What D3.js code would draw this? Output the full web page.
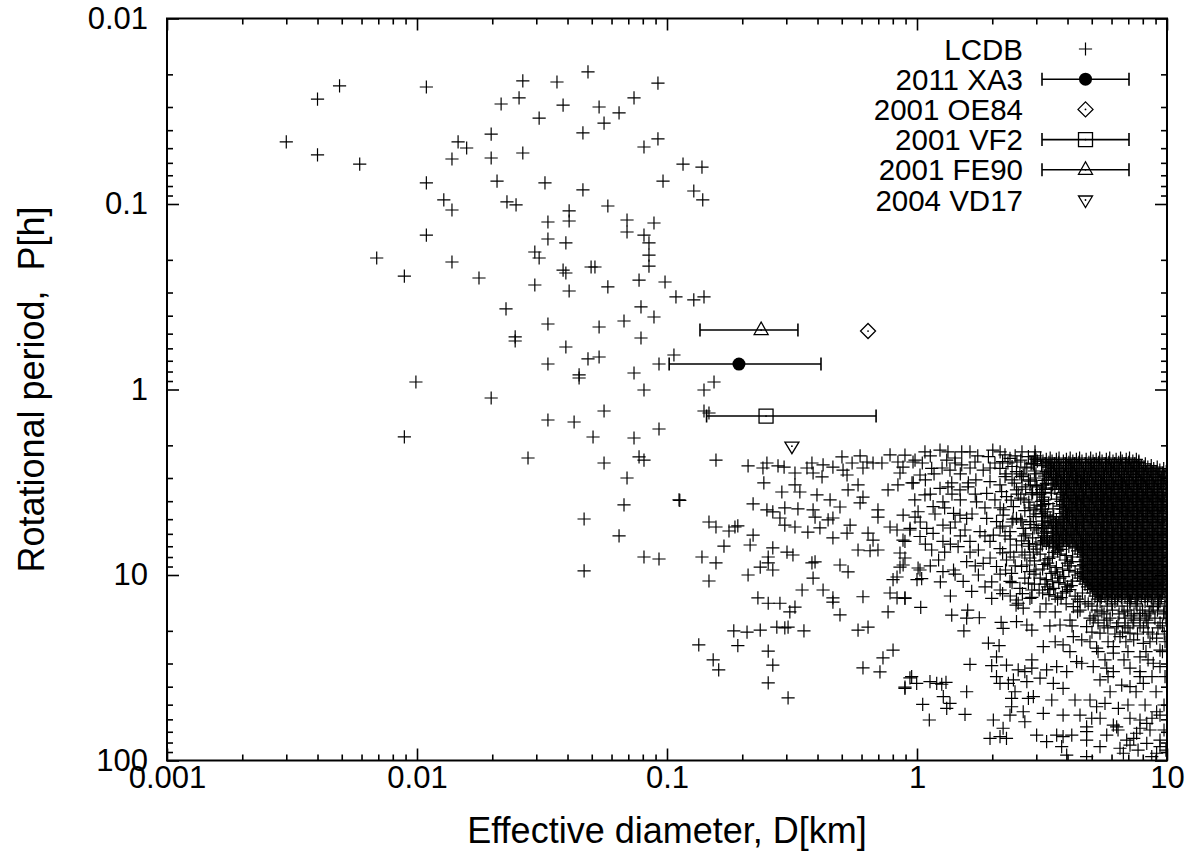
<!DOCTYPE html>
<html>
<head>
<meta charset="utf-8">
<script src="https://cdn.jsdelivr.net/npm/d3@7"></script>
<style>
  body { margin: 0; background: #fff; }
  svg { display: block; font-family: "Liberation Sans", Arial, sans-serif; }
</style>
</head>
<body>
<div id="chart"></div>
<script>
// LCDB asteroids, [D km, P h] (sparse part, D < 1 km)
const lcdbSparse = [
  [0.0049,0.0231],[0.004,0.0272],[0.0109,0.0234],[0.003,0.0463],[0.004,0.0544],[0.0059,0.0609],
  [0.0109,0.077],[0.0128,0.0951],[0.0138,0.1077],[0.0138,0.0572],[0.0146,0.0463],[0.0158,0.0499],
  [0.0483,0.0194],[0.0265,0.0217],[0.0363,0.022],[0.092,0.0223],[0.0256,0.0268],[0.0217,0.0289],
  [0.0384,0.0293],[0.0738,0.0268],[0.0535,0.030],[0.0643,0.0323],[0.056,0.0366],[0.0308,0.0344],
  [0.0198,0.042],[0.0461,0.0414],[0.0198,0.0565],[0.0265,0.0531],[0.0809,0.0493],[0.092,0.0446],
  [0.1159,0.0609],[0.138,0.0632],[0.0209,0.0752],[0.0325,0.077],[0.0461,0.084],[0.0964,0.0752],
  [0.128,0.0851],[0.139,0.0951],[0.0229,0.0975],[0.0249,0.1012],[0.0406,0.109],[0.058,0.1025],
  [0.0334,0.125],[0.0406,0.1235],[0.0692,0.122],[0.0887,0.1266],[0.0109,0.147],[0.0069,0.1955],
  [0.0089,0.2446],[0.0099,0.911],[0.0089,1.80],[0.0138,0.2054],[0.0692,0.1416],[0.0809,0.147],
  [0.0334,0.1544],[0.0394,0.1622],[0.0847,0.1622],[0.0296,0.1814],[0.0308,0.1955],[0.0847,0.1884],
  [0.0847,0.216],[0.0177,0.2506],[0.0384,0.227],[0.0394,0.2355],[0.0497,0.2186],[0.0515,0.2186],
  [0.0296,0.2733],[0.0406,0.2945],[0.058,0.280],[0.0773,0.257],[0.0982,0.2634],[0.1086,0.317],
  [0.128,0.329],[0.1406,0.317],[0.0227,0.368],[0.0334,0.4436],[0.0535,0.4603],[0.0673,0.4274],
  [0.0787,0.359],[0.0887,0.4066],[0.0247,0.521],[0.0247,0.5477],[0.0394,0.590],[0.0787,0.5277],
  [0.0334,0.7288],[0.0483,0.6846],[0.0535,0.668],[0.0445,0.835],[0.0445,0.867],[0.0738,0.815],
  [0.0929,0.7288],[0.1066,0.6518],[0.0198,1.111],[0.0809,1.006],[0.1406,1.006],[0.1542,0.911],
  [0.056,1.306],[0.0334,1.46],[0.0425,1.497],[0.1406,1.306],[0.1472,1.339],[0.0929,1.633],
  [0.0506,1.803],[0.0738,1.826],[0.0278,2.34],[0.056,2.49],[0.0773,2.31],[0.0809,2.40],
  [0.157,2.40],[0.0692,3.0],[0.1117,3.94],[0.1125,3.96],[0.0673,4.19],[0.0466,4.99],
  [0.0643,6.16],[0.0809,8.0],[0.0929,8.2],[0.0466,9.5],[0.1472,5.18],[0.157,5.51],
  [0.177,5.79],[0.187,5.51],[0.192,5.44],[0.169,6.98],[0.138,8.0],[0.157,8.61],
  [0.1472,10.77],[0.185,20.0],[0.211,2.58],[0.251,2.49],[0.242,2.65],[0.278,2.58],
  [0.294,2.62],[0.325,2.82],[0.380,2.49],[0.363,2.65],[0.384,2.82],[0.421,2.55],
  [0.417,2.96],[0.461,2.62],[0.501,2.31],[0.506,2.72],[0.525,2.89],[0.55,2.49],
  [0.592,2.28],[0.631,2.46],[0.608,2.65],[0.667,2.49],[0.724,2.49],[0.78,2.25],
  [0.839,2.46],[0.879,2.62],[0.964,2.46],[0.855,2.82],[0.244,3.19],[0.288,3.57],
  [0.325,3.27],[0.340,3.57],[0.398,3.70],[0.449,3.94],[0.53,3.48],[0.581,3.27],
  [0.608,3.80],[0.592,4.09],[0.766,3.48],[0.839,3.27],[0.955,3.19],[0.221,4.14],
  [0.251,4.46],[0.265,4.57],[0.296,4.35],[0.334,4.40],[0.384,4.46],[0.492,4.30],
  [0.698,4.46],[0.283,4.93],[0.391,4.87],[0.441,5.05],[0.461,4.93],[0.221,6.09],
  [0.296,5.38],[0.325,5.51],[0.366,5.87],[0.409,5.57],[0.461,6.31],[0.54,5.38],
  [0.525,5.94],[0.637,5.94],[0.667,6.48],[0.698,4.87],[0.78,5.51],[0.832,5.72],
  [0.879,6.48],[0.937,5.72],[0.982,4.87],[0.215,6.89],[0.265,7.15],[0.254,8.0],
  [0.302,7.52],[0.319,7.80],[0.236,9.06],[0.254,8.61],[0.265,9.40],[0.211,10.0],
  [0.380,8.61],[0.391,8.5],[0.384,10.4],[0.492,8.83],[0.53,9.63],[0.581,7.33],
  [0.649,7.4],[0.698,7.33],[0.855,7.61],[0.895,8.1],[0.855,9.06],[0.832,10.25],
  [0.802,10.6],[1.01,9.17],[1.0,10.6],[0.347,12.05],[0.421,12.05],[0.461,13.3],
  [0.461,14.0],[0.231,13.3],[0.254,14.2],[0.283,14.2],[0.325,14.9],[0.31,15.8],
  [0.608,13.1],[0.78,12.5],[0.832,13.3],[0.895,13.3],[0.766,15.8],[0.492,16.4],
  [0.209,20.3],[0.236,19.8],[0.275,19.1],[0.296,19.3],[0.305,19.1],[0.353,20.0],
  [0.581,19.8],[0.637,19.1],[0.134,23.8],[0.192,24.0],[0.254,25.7],[0.153,28.7],
  [0.161,32.5],[0.265,30.6],[0.731,28.0],[0.802,25.4],[0.608,31.7],[0.711,33.3],
  [0.254,38.2],[0.305,46.0],[0.937,35.9],[0.895,40.2]
];

// LCDB, D from about 1 to 3 km and the lower tail
const lcdbMid = [
  [1.236,2.12],[0.982,2.40],[1.145,2.66],[1.315,2.40],[1.51,2.55],[1.605,3.19],[0.966,3.19],
  [1.236,3.41],[1.377,3.19],[1.93,2.30],[1.84,2.72],[2.355,2.35],[2.79,2.30],[2.148,2.66],
  [2.50,2.77],[2.66,2.89],[1.959,3.14],[2.148,3.27],[1.90,3.63],[2.28,3.78],[2.50,3.48],
  [2.831,3.27],[1.73,4.03],[2.43,4.28],[1.01,4.56],[0.88,4.75],[1.16,4.28],[1.27,4.03],
  [1.486,4.75],[1.58,4.95],[1.40,4.65],[1.90,4.95],[2.08,5.16],[2.21,4.75],[2.50,4.95],
  [2.83,5.16],[2.66,5.60],[2.355,5.84],[2.02,6.09],[1.786,5.84],[1.556,5.72],[1.27,5.38],
  [1.094,5.60],[0.938,5.60],[0.895,6.59],[1.028,6.2],[1.16,5.96],[1.27,6.59],[1.46,7.04],
  [1.629,6.59],[1.76,7.33],[1.959,6.59],[2.148,7.2],[2.50,6.89],[2.79,6.77],[1.145,7.33],
  [1.22,8.30],[0.88,8.83],[1.028,9.40],[1.044,10.46],[1.27,9.6],[1.40,9.40],[1.58,8.48],
  [1.84,8.65],[2.08,9.0],[2.28,8.30],[2.39,9.8],[2.75,8.83],[1.53,10.83],[1.655,12.25],
  [1.871,11.6],[1.76,10.0],[2.355,10.83],[2.58,11.8],[2.79,11.05],[1.99,13.37],[2.50,13.64],
  [0.895,13.37],[0.895,2.26],[1.076,2.17],[1.419,2.34],[1.629,2.17],[1.355,2.72],[1.028,2.89],
  [1.706,2.46],[2.01,2.12],[2.249,2.25],[2.51,2.46],[2.965,2.17],[2.965,3.0],[3.02,3.70],
  [2.94,4.46],[3.05,5.72],[2.92,7.52],[2.99,9.4],[3.08,12.05],[1.486,3.48],[1.076,3.70],
  [1.33,2.17],[1.51,2.17],[2.15,2.17],[2.63,2.17],[1.13,2.28],[1.75,2.28],[2.47,2.28],[2.97,2.28],
  [1.05,2.49],[1.42,2.49],[2.05,2.49],[2.31,2.49],[2.88,2.49],[1.26,2.65],[1.63,2.65],[1.96,2.65],
  [2.75,2.65],[1.17,2.85],[1.49,2.85],[2.27,2.85],[2.58,2.85],[2.99,2.85],[1.08,3.07],[1.72,3.07],
  [2.40,3.07],[2.79,3.07],[1.33,3.35],[1.60,3.35],[2.63,3.35],[3.02,3.35],[1.13,3.66],[1.38,3.66],
  [1.71,3.66],[2.54,3.66],[2.88,3.66],[0.98,3.94],[1.49,3.94],[2.05,3.94],[2.68,3.94],[1.29,4.35],
  [1.87,4.35],[2.15,4.35],[2.83,4.35],[1.18,4.69],[1.66,4.69],[2.99,4.69],[1.03,5.18],[1.42,5.18],
  [2.40,5.18],[2.63,5.18],[1.36,5.58],[2.15,5.58],[2.94,5.58],[1.49,6.16],[1.87,6.16],[2.25,6.16],
  [2.68,6.16],[1.08,6.81],[1.36,6.81],[2.99,6.81],[1.29,7.52],[1.63,7.52],[2.36,7.52],[2.63,7.52],
  [1.96,8.10],[2.83,8.10],[1.13,8.94],[1.71,8.94],[2.47,8.94],[1.42,9.88],[2.15,9.88],[2.94,9.88],
  [1.24,10.9],[1.99,10.9],[2.15,12.05],[2.88,12.05],[1.36,12.98],[2.36,12.98],
  [2.60,2.40],[2.86,2.52],[2.70,2.62],[2.95,2.75],[2.62,2.95],[2.84,3.12],[3.00,3.30],[2.72,3.45],
  [2.90,3.60],[2.60,3.85],[2.80,4.05],[3.02,4.20],[2.70,4.50],[2.92,4.85],[2.60,5.05],[2.85,5.35],
  [3.00,5.55],[2.72,6.00],[2.90,6.30],[2.62,6.55],[2.82,7.00],[3.02,7.25],[2.70,7.80],[2.95,8.40],
  [2.62,9.00],[2.82,9.60],[2.70,10.4],[2.95,11.2],[2.64,12.6],[2.88,13.2],
  [2.20,2.45],[2.40,2.60],[2.25,2.95],[2.45,3.20],[2.18,3.55],[2.38,3.95],[2.22,4.45],[2.42,5.0],
  [2.20,5.45],[2.36,6.4],[2.20,7.6],[2.44,8.0],[2.26,9.4],[2.40,11.0],[2.20,12.6],
  [3.45,3.62],[3.62,3.90],[3.36,4.12],[3.50,4.40],
  [1.035,14.93],[1.377,16.44],[1.595,15.45],[1.58,17.1],[1.775,17.0],[1.54,20.0],[2.17,18.0],
  [2.21,19.4],[1.93,23.3],[2.13,24.05],[2.49,14.52],[2.66,15.1],[2.50,17.85],[2.75,18.6],
  [2.88,19.8],[2.83,13.37],[1.629,30.3],[2.08,27.6],[1.99,30.8],[2.28,30.6],[2.08,35.3],
  [2.54,32.5],[2.70,33.2],[2.88,28.7],[2.88,31.8],[0.952,35.3],[0.895,40.8],[0.997,38.4],
  [1.127,37.6],[1.199,38.4],[1.256,38.8],[1.306,37.9],[1.58,42.6],[1.274,45.3],[1.355,49.2],
  [1.315,52.3],[1.054,49.8],[1.12,60.5],[1.556,56.4],[2.148,38.4],[2.32,38.4],[2.43,36.8],
  [2.466,42.6],[2.39,46.2],[2.39,51.3],[2.75,37.6],[2.79,46.2],[2.66,54.6],[2.70,61.8],
  [2.355,56.9],[2.02,60.5],[2.21,67.0],[2.148,74.4],[1.959,75.9],[2.28,75.9],
  [3.20,24.35],[3.84,23.8],[4.22,21.5],[4.56,22.4],[5.23,24.8],[6.10,24.35],[6.486,21.5],
  [7.112,20.6],[7.36,22.4],[8.04,23.35],[9.09,21.9],[9.376,25.4],[7.798,27.6],[6.10,26.4],
  [4.35,29.3],[4.56,29.9],[3.62,31.2],[3.30,32.5],[3.97,33.2],[5.07,31.2],[5.74,31.8],
  [6.10,33.2],[7.112,31.8],[7.798,33.2],[8.81,29.9],[9.376,31.2],[3.105,36.0],[3.51,38.4],
  [3.84,40.8],[5.395,36.8],[6.59,39.2],[7.112,40.0],[8.04,38.4],[7.798,35.3],[2.92,45.3],
  [3.46,47.2],[4.285,47.2],[4.92,47.2],[5.23,51.3],[5.649,49.2],[6.39,52.3],[3.20,55.7],
  [3.84,56.9],[4.487,56.9],[5.0,59.2],[4.77,65.8],[4.77,69.9],[6.10,64.4],[6.29,65.8],
  [7.798,60.5],[8.30,63.0],[9.09,54.6],[9.376,56.9],[3.01,72.9],[3.30,79.2],[3.62,72.9],
  [3.84,74.4],[4.16,72.9],[4.77,77.6],[5.395,84.2],[5.74,72.9],[6.90,77.6],[7.112,82.6],
  [7.36,75.9],[7.56,71.3],[7.798,67.0],[8.30,80.8],[9.376,77.6],[9.376,84.2],[3.97,93.5],
  [4.77,95.4],[6.486,85.9],[6.69,91.4],[8.69,95.4],[9.09,91.4],[3.79,84.2],
  [2.54,14.2],[3.105,15.8],[3.733,18.6],[4.093,17.5],[4.77,19.0],[4.22,14.8],[4.487,13.93],
  [5.74,17.5],[6.29,19.0],[7.112,14.2],[7.798,16.1],[8.30,17.5],[8.81,14.8],[7.36,17.5],
  [5.395,20.6],[5.07,17.5],
  [3.28,14.3],[3.95,14.3],[4.84,14.3],[6.02,14.3],[7.52,14.3],[9.25,14.3],
  [3.57,15.8],[4.39,15.8],[5.49,15.8],[6.73,15.8],[8.55,15.8],[9.73,15.8],
  [5.15,16.6],[7.19,16.6],[8.17,16.6],
  [3.40,18.8],[4.17,18.8],[5.60,18.8],[6.79,18.8],[7.80,18.8],[9.59,18.8],
  [5.01,20.3],[6.64,20.3],[8.40,20.3],
  [3.57,22.9],[4.92,22.9],[5.81,22.9],[6.85,22.9],[8.55,22.9],[9.82,22.9],
  [4.09,25.9],[5.30,25.9],[6.98,25.9],[8.24,25.9],[9.59,25.9],
  [5.65,28.7],[6.73,28.7],[8.40,28.7],[5.81,35.3],[8.71,35.3],[9.82,35.3],
  [5.92,42.6],[7.52,42.6],[9.04,42.6],[6.98,50.2],[8.17,50.2],[9.73,50.2],
  [5.40,59.2],[7.11,59.2],[8.71,59.2],[6.37,68.5],[8.55,68.5],[9.73,68.5],
  [7.66,87.9],[9.90,87.9]
];

// LCDB core cloud (D 3 to 10 km, P 2.3 to 21 h): one period per row, diameters read along it
const coreP = [2.34,2.43,2.52,2.62,2.72,2.82,2.93,3.04,3.15,3.27,3.40,3.53,3.66,3.80,3.94,4.09,
  4.25,4.41,4.57,4.75,4.93,5.12,5.31,5.51,5.72,5.94,6.16,6.40,6.64,6.89,7.15,7.42,7.71,8.00,
  8.30,8.62,8.94,9.28,9.63,10.0,10.4,10.8,11.2,11.6,12.0,12.5,13.0,13.5,
  13.9,14.7,15.45,16.2,17.1,18.1,19.3,20.8,
  2.38,2.47,2.57,2.67,2.77,2.87,2.98,3.09,3.21,3.33,3.46,3.59,3.73,3.87,4.01,4.17,4.33,4.49,
  4.66,4.84,5.02,5.21,5.41,5.61,5.83,6.05,6.28,6.52,6.76,7.02,7.28,7.56,7.85,8.15,8.46,8.78,
  9.11,9.45,9.81,10.2,10.6,11.0,11.4,11.8,12.25,12.75,13.25];
const coreD = [
  [2.95,3.12,3.41,3.70,4.10,4.47,4.95,5.38,5.90,6.52,7.08],
  [3.03,3.19,3.47,3.85,4.20,4.57,5.06,5.50,6.08,6.62,7.30,7.72],
  [2.92,3.26,3.55,3.93,4.27,4.72,5.13,5.67,6.17,6.82,7.43,8.19],
  [3.34,3.63,4.02,4.37,4.83,5.25,5.80,6.32,6.97,7.60,8.38,9.14],
  [3.42,3.72,4.11,4.48,4.94,5.39,5.94,6.47,7.13,7.78,8.57,9.36],
  [3.19,3.46,3.84,4.18,4.61,5.02,5.54,6.03,6.66,7.26,8.00,8.73,9.61],
  [3.24,3.58,3.89,4.31,4.68,5.17,5.63,6.21,6.77,7.47,8.15,8.97,9.80],
  [3.35,3.64,4.01,4.38,4.80,5.29,5.76,6.36,6.93,7.64,8.34,9.18],
  [3.75,4.08,4.51,4.90,5.42,5.91,6.50,7.09,7.82,8.53,9.40],
  [3.17,3.49,3.80,4.21,4.58,5.05,5.50,6.07,6.63,7.30,7.96,8.77,9.57],
  [3.26,3.56,3.92,4.28,4.72,5.14,5.66,6.18,6.81,7.44,8.19,8.93,9.83],
  [4.01,4.40,4.79,5.28,5.77,6.35,6.94,7.63,8.35,9.17],
  [3.10,3.74,4.10,4.48,4.93,5.41,5.93,6.48,7.12,7.79,8.56,9.37],
  [3.19,3.81,4.20,4.60,5.03,5.53,6.04,6.65,7.27,7.99,8.74,9.60],
  [3.24,3.90,4.30,4.69,5.16,5.64,6.20,6.78,7.46,8.16,8.96,9.81],
  [4.02,4.38,4.82,5.26,5.79,6.33,6.96,7.61,8.37,9.15],
  [3.12,3.72,4.09,4.50,4.91,5.41,5.92,6.49,7.10,7.81,8.54,9.39],
  [3.17,3.83,4.18,4.58,5.05,5.51,6.06,6.63,7.29,7.97,8.76,9.58],
  [3.26,3.92,4.29,4.71,5.14,5.66,6.18,6.80,7.44,8.18,8.94,9.82],
  [3.32,4.00,4.40,4.80,5.28,5.77,6.35,6.94,7.63,8.35,9.17],
  [3.41,3.73,4.08,4.49,4.93,5.39,5.93,6.48,7.12,7.79,8.56,9.37],
  [3.18,3.47,3.83,4.19,4.60,5.03,5.53,6.04,6.65,7.27,7.99,8.74,9.60],
  [3.25,3.58,3.90,4.30,4.69,5.16,5.64,6.20,6.78,7.46,8.16,8.96,9.81],
  [3.34,3.64,4.01,4.38,4.82,5.26,5.79,6.33,6.96,7.61,8.37,9.15],
  [3.74,4.10,4.48,4.92,5.41,5.91,6.50,7.10,7.81,8.54,9.39],
  [3.19,3.48,3.81,4.20,4.58,5.05,5.51,6.06,6.63,7.29,7.97,8.76,9.58],
  [3.24,3.57,3.92,4.28,4.71,5.14,5.66,6.18,6.80,7.44,8.18,8.94,9.82],
  [3.33,3.66,3.99,4.40,4.80,5.28,5.77,6.35,6.94,7.63,8.35,9.17],
  [3.12,3.39,3.72,4.09,4.50,4.91,5.40,5.92,6.49,7.11,7.80,8.55,9.38],
  [3.17,3.49,3.83,4.18,4.59,5.04,5.52,6.05,6.64,7.28,7.98,8.75,9.59],
  [3.57,4.29,4.70,5.15,5.65,6.19,6.79,7.45,8.17,8.95,9.82],
  [3.65,4.39,4.81,5.27,5.78,6.34,6.95,7.62,8.36,9.16],
  [3.11,3.73,4.49,4.92,5.40,5.92,6.49,7.11,7.80,8.55,9.38],
  [3.48,4.19,4.59,5.04,5.52,6.05,6.64,7.28,7.98,8.75,9.59],
  [3.25,3.91,4.70,5.15,5.65,6.19,6.79,7.45,8.17,8.95,9.82],
  [3.33,4.00,4.81,5.27,5.78,6.34,6.95,7.62,8.36,9.16],
  [3.40,4.09,4.49,4.92,5.40,5.92,6.49,7.11,7.80,8.55,9.38],
  [3.18,3.82,4.59,5.04,5.52,6.05,6.64,7.28,7.98,8.75,9.59],
  [3.57,4.29,4.70,5.15,5.65,6.19,6.79,7.45,8.17,8.95,9.82],
  [3.65,4.39,4.81,5.27,5.78,6.34,6.95,7.62,8.36,9.16],
  [3.11,3.73,4.49,4.92,5.40,5.92,6.49,7.11,7.80,8.55,9.38],
  [3.48,4.19,4.59,5.04,5.52,6.05,6.64,7.28,7.98,8.75,9.59],
  [3.25,3.91,4.70,5.15,5.65,6.19,6.79,7.45,8.17,8.95,9.82],
  [3.33,4.00,4.81,5.27,5.78,6.34,6.95,7.62,8.36,9.16],
  [3.40,4.09,4.92,5.40,5.92,6.49,7.11,7.80,8.55,9.38],
  [3.18,3.82,4.59,5.04,5.52,6.05,6.64,7.28,7.98,8.75,9.59],
  [3.57,4.29,5.15,5.65,6.19,6.79,7.45,8.17,8.95,9.82],
  [3.65,4.39,5.27,5.78,6.34,6.95,7.62,8.36,9.16],
  [4.70,5.40,6.19,7.11,8.17,9.38],
  [5.01,5.76,6.61,7.59,8.71,9.82],
  [4.49,5.25,6.05,6.95,7.98,9.16],
  [5.60,6.43,7.38,8.48,9.70],
  [4.92,5.92,6.79,7.80,8.95,9.90],
  [5.30,6.37,7.31,8.40,9.38],
  [5.80,6.98,8.05,9.20],
  [6.19,7.62,8.75,9.75],
  [2.99,3.29,3.61,3.96,4.34,4.75,5.21,5.72,6.26,6.87,7.54],
  [3.37,3.69,4.05,4.44,4.87,5.33,5.85,6.41,7.03,7.71],
  [3.15,3.44,3.77,4.14,4.54,4.98,5.46,5.99,6.57,7.19,7.89,8.65],
  [3.52,3.86,4.24,4.64,5.10,5.58,6.12,6.72,7.36,8.07,8.85,9.70],
  [3.29,3.61,3.96,4.34,4.75,5.21,5.72,6.26,6.87,7.54,8.26,9.05,9.93],
  [3.37,3.69,4.05,4.44,4.87,5.33,5.85,6.41,7.03,7.71,8.46,9.27],
  [3.44,3.77,4.14,4.54,4.98,5.46,5.99,6.57,7.19,7.89,8.65,9.49],
  [3.22,3.52,3.86,4.24,4.64,5.10,5.58,6.12,6.72,7.36,8.07,8.85,9.70],
  [3.29,3.61,3.96,4.34,4.75,5.21,5.72,6.26,6.87,7.54,8.26,9.05,9.93],
  [3.69,4.05,4.44,4.87,5.33,5.85,6.41,7.03,7.71,8.46,9.27],
  [3.15,3.44,3.77,4.14,4.54,4.98,5.46,5.99,6.57,7.19,7.89,8.65,9.49],
  [3.22,3.86,4.24,4.64,5.10,5.58,6.12,6.72,7.36,8.07,8.85,9.70],
  [3.96,4.34,4.75,5.21,5.72,6.26,6.87,7.54,8.26,9.05,9.93],
  [4.05,4.44,4.87,5.33,5.85,6.41,7.03,7.71,8.46,9.27],
  [3.15,3.77,4.14,4.54,4.98,5.46,5.99,6.57,7.19,7.89,8.65,9.49],
  [3.22,3.86,4.24,4.64,5.10,5.58,6.12,6.72,7.36,8.07,8.85,9.70],
  [3.96,4.34,4.75,5.21,5.72,6.26,6.87,7.54,8.26,9.05,9.93],
  [4.05,4.44,4.87,5.33,5.85,6.41,7.03,7.71,8.46,9.27],
  [3.15,3.77,4.14,4.54,4.98,5.46,5.99,6.57,7.19,7.89,8.65,9.49],
  [3.22,3.52,3.86,4.24,4.64,5.10,5.58,6.12,6.72,7.36,8.07,8.85,9.70],
  [3.61,3.96,4.34,4.75,5.21,5.72,6.26,6.87,7.54,8.26,9.05,9.93],
  [3.37,3.69,4.05,4.44,4.87,5.33,5.85,6.41,7.03,7.71,8.46,9.27],
  [3.15,3.44,3.77,4.14,4.54,4.98,5.46,5.99,6.57,7.19,7.89,8.65,9.49],
  [3.22,3.52,3.86,4.24,4.64,5.10,5.58,6.12,6.72,7.36,8.07,8.85,9.70],
  [3.29,3.61,3.96,4.34,4.75,5.21,5.72,6.26,6.87,7.54,8.26,9.05,9.93],
  [3.69,4.05,4.44,4.87,5.33,5.85,6.41,7.03,7.71,8.46,9.27],
  [3.15,3.44,3.77,4.14,4.54,4.98,5.46,5.99,6.57,7.19,7.89,8.65,9.49],
  [3.22,3.52,3.86,4.24,4.64,5.10,5.58,6.12,6.72,7.36,8.07,8.85,9.70],
  [3.29,3.61,3.96,4.34,4.75,5.21,5.72,6.26,6.87,7.54,8.26,9.05,9.93],
  [3.37,3.69,4.05,4.44,4.87,5.33,5.85,6.41,7.03,7.71,8.46,9.27],
  [3.77,4.54,4.98,5.46,5.99,6.57,7.19,7.89,8.65,9.49],
  [3.52,4.64,5.10,5.58,6.12,6.72,7.36,8.07,8.85,9.70],
  [3.96,4.75,5.21,5.72,6.26,6.87,7.54,8.26,9.05,9.93],
  [3.37,4.87,5.33,5.85,6.41,7.03,7.71,8.46,9.27],
  [4.14,4.54,4.98,5.46,5.99,6.57,7.19,7.89,8.65,9.49],
  [3.22,4.64,5.10,5.58,6.12,6.72,7.36,8.07,8.85,9.70],
  [3.61,4.75,5.21,5.72,6.26,6.87,7.54,8.26,9.05,9.93],
  [4.05,4.87,5.33,5.85,6.41,7.03,7.71,8.46,9.27],
  [3.44,4.54,4.98,5.46,5.99,6.57,7.19,7.89,8.65,9.49],
  [3.86,4.64,5.10,5.58,6.12,6.72,7.36,8.07,8.85,9.70],
  [3.29,4.75,5.21,5.72,6.26,6.87,7.54,8.26,9.05,9.93],
  [3.69,4.87,5.33,5.85,6.41,7.03,7.71,8.46,9.27],
  [4.14,4.98,5.46,5.99,6.57,7.19,7.89,8.65,9.49],
  [3.52,5.10,5.58,6.12,6.72,7.36,8.07,8.85,9.70],
  [3.96,5.21,5.72,6.26,6.87,7.54,8.26,9.05,9.93],
  [3.37,5.33,5.85,6.41,7.03,7.71,8.46,9.27],
  [3.77,5.46,5.99,6.57,7.19,7.89,8.65,9.49]
];

// the five objects: D with its range (null = no bar) and P
const objNames = ["2011 XA3", "2001 OE84", "2001 VF2", "2001 FE90", "2004 VD17"];
const objD     = [0.194, 0.637, 0.249, 0.238, 0.316];
const objDlo   = [0.102, null, 0.144, 0.1355, null];
const objDhi   = [0.413, null, 0.686, 0.334, null];
const objP     = [0.729, 0.484, 1.39, 0.478, 2.02];
const objShape = ["circle", "diamond", "square", "triangle", "invtriangle"];

const xTicks = [0.001, 0.01, 0.1, 1, 10];
const yTicks = [0.01, 0.1, 1, 10, 100];

const W = 1200, H = 855;
const tickFS = 31, labelFS = 36, keyFS = 29.5;
const margin = { top: 18.5, right: 33, bottom: 94.5, left: 167 };

const svg = d3.select("#chart").append("svg")
  .attr("width", W).attr("height", H)
  .attr("viewBox", `0 0 ${W} ${H}`);

const x = d3.scaleLog().domain([0.001, 10]).range([margin.left, W - margin.right]);
const y = d3.scaleLog().domain([0.01, 100]).range([margin.top, H - margin.bottom]);

svg.append("clipPath").attr("id", "plotclip")
  .append("rect")
  .attr("x", x.range()[0]).attr("y", y.range()[0])
  .attr("width", x.range()[1] - x.range()[0])
  .attr("height", y.range()[1] - y.range()[0]);

// all LCDB points
const lcdb = lcdbSparse.concat(lcdbMid);
coreP.forEach((p, i) => coreD[i].forEach(d => lcdb.push([d, p])));

const crossPath = "M-6.6,0H6.6M0,-6.6V6.6";

svg.append("g")
  .attr("clip-path", "url(#plotclip)")
  .selectAll("path")
  .data(lcdb)
  .join("path")
  .attr("d", crossPath)
  .attr("transform", d => `translate(${x(d[0])},${y(d[1])})`)
  .attr("fill", "none")
  .attr("stroke", "#000")
  .attr("stroke-width", 1.2);

function marker(g, shape) {
  if (shape === "circle") {
    g.append("circle").attr("r", 6.5).attr("fill", "#000");
  } else if (shape === "cross") {
    g.append("path").attr("d", crossPath).attr("stroke", "#000").attr("stroke-width", 1.2);
  } else {
    const d = {
      diamond: "M0,-7.5L7.5,0L0,7.5L-7.5,0Z",
      square: "M-7,-7H7V7H-7Z",
      triangle: "M0,-8L7,4.5H-7Z",
      invtriangle: "M-7,-4H7L0,7.5Z"
    }[shape];
    g.append("path").attr("d", d).attr("fill", "none")
      .attr("stroke", "#000").attr("stroke-width", 1.3);
    g.append("circle").attr("r", 0.9).attr("fill", "#000");
  }
}

function errorBar(g, x0, x1) {
  g.append("path")
    .attr("d", `M${x0},0H${x1}M${x0},-6.5V6.5M${x1},-6.5V6.5`)
    .attr("fill", "none").attr("stroke", "#000").attr("stroke-width", 1.6);
}

const objG = svg.append("g");
objNames.forEach((n, i) => {
  const g = objG.append("g").attr("transform", `translate(0,${y(objP[i])})`);
  if (objDlo[i] != null) errorBar(g, x(objDlo[i]), x(objDhi[i]));
  marker(g.append("g").attr("transform", `translate(${x(objD[i])},0)`), objShape[i]);
});

// axes: major and minor ticks on all four sides, pointing inward
const isMajor = v => Math.abs(Math.log10(v) - Math.round(Math.log10(v))) < 1e-9;
const minorX = x.ticks().filter(v => !isMajor(v));
const minorY = y.ticks().filter(v => !isMajor(v));
const fmt = v => String(v);

function styleAxis(g) {
  g.select(".domain").remove();
  g.selectAll(".tick line").attr("stroke", "#000").attr("stroke-width", 1.6);
  g.selectAll("text").attr("fill", "#000");
  g.attr("font-size", tickFS).attr("font-family", "'Liberation Sans', Arial, sans-serif");
}

const bottomY = y.range()[1], topY = y.range()[0];
const leftX = x.range()[0], rightX = x.range()[1];

svg.append("g").attr("transform", `translate(0,${bottomY})`)
  .call(d3.axisBottom(x).tickValues(xTicks).tickFormat(fmt).tickSize(-12).tickPadding(5))
  .call(styleAxis);
svg.append("g").attr("transform", `translate(0,${bottomY})`)
  .call(d3.axisBottom(x).tickValues(minorX).tickFormat("").tickSize(-6))
  .call(styleAxis);
svg.append("g").attr("transform", `translate(0,${topY})`)
  .call(d3.axisTop(x).tickValues(xTicks).tickFormat("").tickSize(-12))
  .call(styleAxis);
svg.append("g").attr("transform", `translate(0,${topY})`)
  .call(d3.axisTop(x).tickValues(minorX).tickFormat("").tickSize(-6))
  .call(styleAxis);

svg.append("g").attr("transform", `translate(${leftX},0)`)
  .call(d3.axisLeft(y).tickValues(yTicks).tickFormat(fmt).tickSize(-12).tickPadding(19))
  .call(styleAxis);
svg.append("g").attr("transform", `translate(${leftX},0)`)
  .call(d3.axisLeft(y).tickValues(minorY).tickFormat("").tickSize(-6))
  .call(styleAxis);
svg.append("g").attr("transform", `translate(${rightX},0)`)
  .call(d3.axisRight(y).tickValues(yTicks).tickFormat("").tickSize(-12))
  .call(styleAxis);
svg.append("g").attr("transform", `translate(${rightX},0)`)
  .call(d3.axisRight(y).tickValues(minorY).tickFormat("").tickSize(-6))
  .call(styleAxis);

// border
svg.append("rect")
  .attr("x", leftX).attr("y", topY)
  .attr("width", rightX - leftX).attr("height", bottomY - topY)
  .attr("fill", "none").attr("stroke", "#000").attr("stroke-width", 2);

// axis titles
svg.append("text")
  .attr("x", (leftX + rightX) / 2).attr("y", 843)
  .attr("text-anchor", "middle").attr("font-size", labelFS)
  .text("Effective diameter, D[km]");
svg.append("text")
  .attr("transform", `translate(44,${(topY + bottomY) / 2}) rotate(-90)`)
  .attr("text-anchor", "middle").attr("font-size", labelFS)
  .style("white-space", "pre")
  .text("Rotational period,  P[h]");

// legend
const legendNames = ["LCDB"].concat(objNames);
const legendShapes = ["cross"].concat(objShape);
const legendBars = [false, true, false, true, true, false];
const legendX = 1023, sampleL = 1042, sampleR = 1129, sampleC = 1085.5;
const leg = svg.append("g");
legendNames.forEach((n, i) => {
  const g = leg.append("g").attr("transform", `translate(0,${49 + i * 30.2})`);
  g.append("text").attr("x", legendX).attr("dy", "0.36em")
    .attr("text-anchor", "end").attr("font-size", keyFS).text(n);
  if (legendBars[i]) errorBar(g, sampleL, sampleR);
  marker(g.append("g").attr("transform", `translate(${sampleC},0)`), legendShapes[i]);
});
</script>
</body>
</html>
